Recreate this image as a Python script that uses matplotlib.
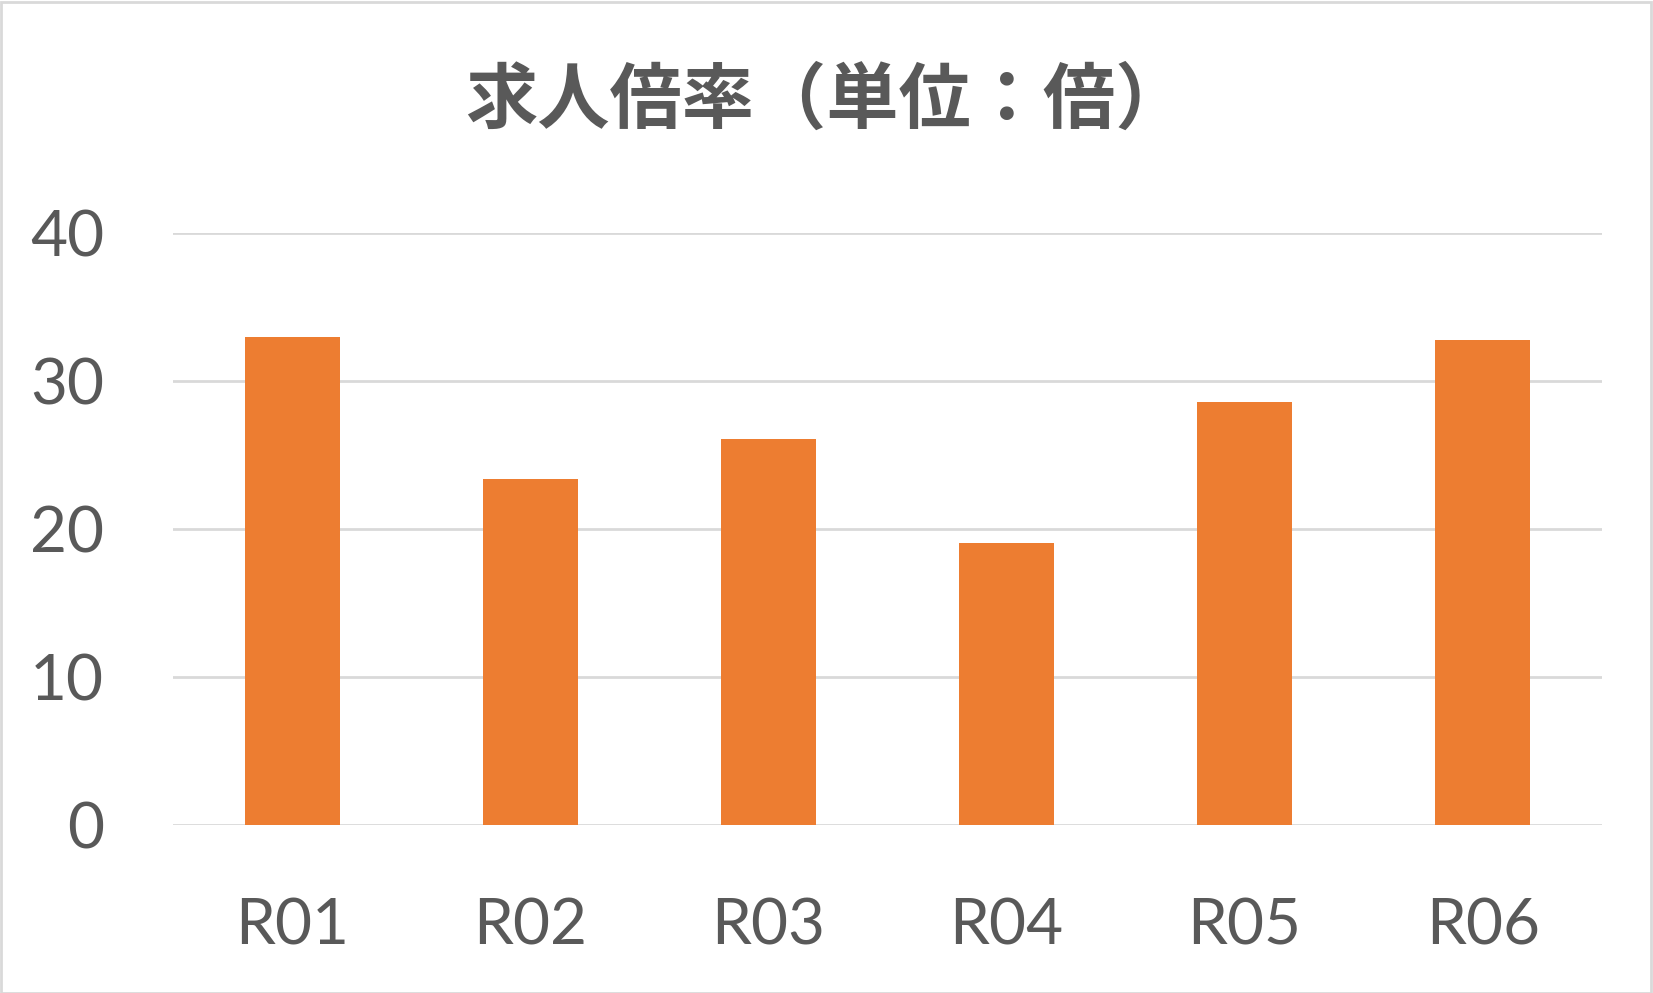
import matplotlib
matplotlib.use("Agg")
import matplotlib.pyplot as plt
from matplotlib.patches import Rectangle

categories = ["R01", "R02", "R03", "R04", "R05", "R06"]
values = [33.0, 23.4, 26.1, 19.1, 28.6, 32.8]
yticks = [0, 10, 20, 30, 40]
title = "求人倍率（単位：倍）"

W, H, DPI = 1653, 993, 100
fig = plt.figure(figsize=(W / DPI, H / DPI), dpi=DPI)
fig.patch.set_facecolor("white")

left, right = 173.3 / W, 1601.7 / W
bottom, top = 1 - 825.3 / H, 1 - 233.3 / H
ax = fig.add_axes([left, bottom, right - left, top - bottom])

x = range(len(categories))
ax.bar(x, values, width=0.4, color="#ED7D31", zorder=3)
ax.set_xlim(-0.5, len(categories) - 0.5)
ax.set_ylim(0, 40)
ax.set_yticks(yticks)
ax.set_xticks(list(x))
ax.set_xticklabels(categories)

for s in ax.spines.values():
    s.set_visible(False)
ax.grid(axis="y", color="#D9D9D9", linewidth=2.0, zorder=0)
ax.set_axisbelow(True)
ax.tick_params(axis="both", length=0, labelcolor="#595959", labelsize=46)
ax.tick_params(axis="y", pad=50)
ax.tick_params(axis="x", pad=52)
for lab in ax.get_xticklabels() + ax.get_yticklabels():
    lab.set_family("Lato")

fig.text(0.5, 1 - 102 / H, title, ha="center", va="center",
         fontsize=52, fontweight="bold", color="#595959",
         family=["Noto Sans CJK JP", "DejaVu Sans"])

fig.patches.append(Rectangle((0.5 / W, 0.5 / H), 1 - 2.5 / W, 1 - 2.5 / H,
                             transform=fig.transFigure, fill=False,
                             edgecolor="#D9D9D9", linewidth=2.0))

fig.savefig("out.png", dpi=DPI, facecolor="white")
